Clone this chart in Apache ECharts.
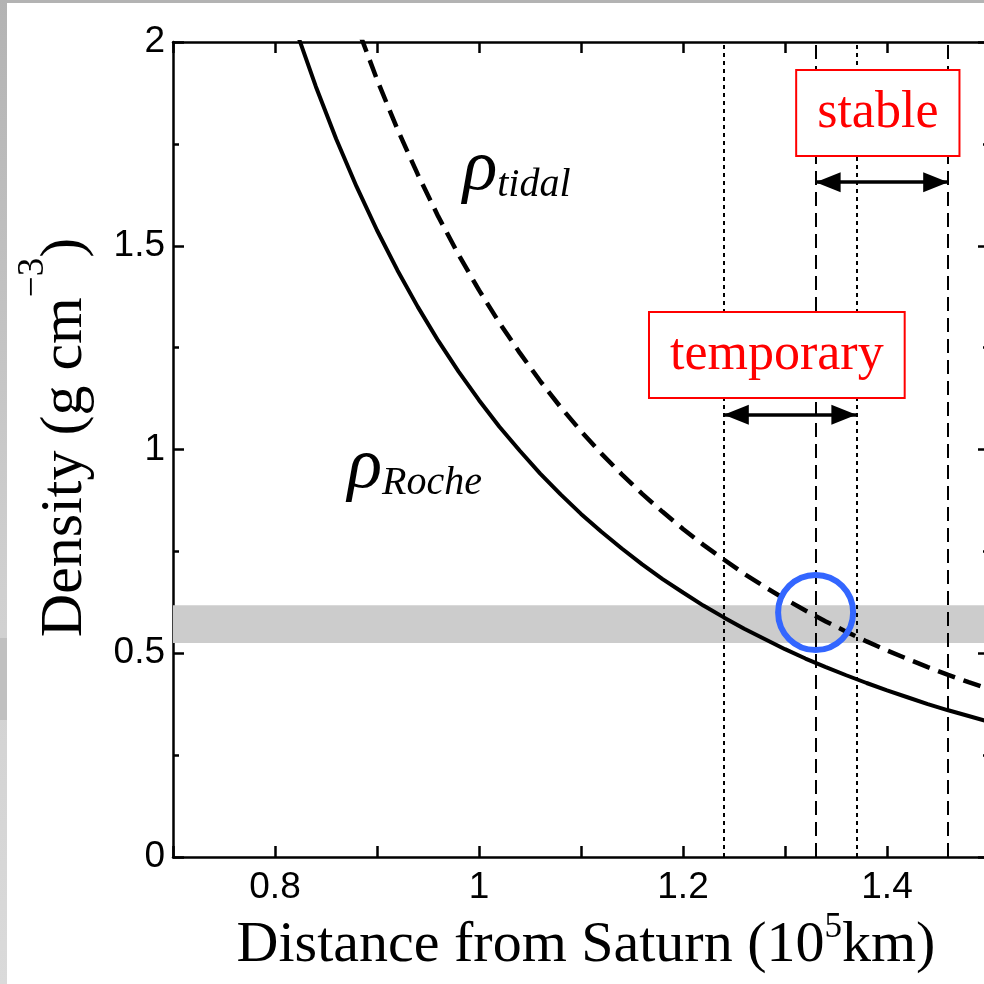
<!DOCTYPE html>
<html>
<head>
<meta charset="utf-8">
<script src="https://cdn.jsdelivr.net/npm/echarts@6/dist/echarts.min.js"></script>
<style>
  * { margin: 0; padding: 0; }
  body { background: #fff; }
  #main { width: 984px; height: 984px; }
</style>
</head>
<body>
<div id="main"></div>
<script>
// distance from Saturn (10^5 km) and the two critical densities
var distance = [0.82, 0.84, 0.86, 0.88, 0.90, 0.92, 0.94, 0.96, 0.98, 1.00,
                1.02, 1.04, 1.06, 1.08, 1.10, 1.12, 1.14, 1.16, 1.18, 1.20,
                1.22, 1.24, 1.26, 1.28, 1.30, 1.32, 1.34, 1.36, 1.38, 1.40,
                1.42, 1.44, 1.46, 1.48, 1.50];
var rhoRoche = [2.033, 1.891, 1.762, 1.645, 1.538, 1.440, 1.350, 1.267, 1.191, 1.121,
                1.056, 0.997, 0.941, 0.890, 0.842, 0.798, 0.757, 0.718, 0.682, 0.649,
                0.617, 0.588, 0.560, 0.535, 0.510, 0.487, 0.466, 0.446, 0.427, 0.409,
                0.392, 0.375, 0.360, 0.346, 0.332];
var rhoTidal = [2.523, 2.347, 2.187, 2.041, 1.908, 1.786, 1.675, 1.572, 1.478, 1.391,
                1.311, 1.237, 1.168, 1.104, 1.045, 0.990, 0.939, 0.891, 0.847, 0.805,
                0.766, 0.730, 0.695, 0.663, 0.633, 0.605, 0.578, 0.553, 0.529, 0.507,
                0.486, 0.466, 0.447, 0.429, 0.412];

var densityBand = [0.525, 0.618];      // grey band
var temporaryEdges = [1.24, 1.37];     // dotted lines
var stableEdges = [1.33, 1.46];        // long dashed lines
var temporaryArrowY = 1.085;
var stableArrowY = 1.656;
var circleMark = [1.33, 0.60];
var boxLabels = [[1.391, 1.826, 'stable'], [1.292, 1.232, 'temporary']];
var curveLabels = [[0.984, 1.686, 'tidal'], [0.871, 0.955, 'Roche']];

var xTickLabels = ['0.8', '1', '1.2', '1.4'];
var yTickLabels = ['0', '0.5', '1', '1.5', '2'];

var serif = 'Liberation Serif';
var sans = 'Liberation Sans';

function pairs(xs, ys) {
    return xs.map(function (x, i) { return [x, ys[i]]; });
}

var chart = echarts.init(document.getElementById('main'), null, { renderer: 'canvas' });

var tickFmt = function (list) {
    return function (v) {
        var s = String(+(+v).toFixed(2));
        return list.indexOf(s) >= 0 ? s : '';
    };
};

var axisLine = { onZero: false, lineStyle: { color: '#000', width: 2.5 } };
var tickStyle = { color: '#000', width: 2.5 };

var option = {
    animation: false,
    backgroundColor: '#fff',
    graphic: [
        { type: 'rect', left: 0, top: 0, shape: { width: 984, height: 3 }, style: { fill: '#b3b3b3' }, z: 100 },
        { type: 'rect', left: 0, top: 0, shape: { width: 7, height: 984 },
          style: { fill: new echarts.graphic.LinearGradient(0, 0, 0, 1, [
              { offset: 0, color: '#b3b3b3' }, { offset: 0.6, color: '#d0d0d0' }, { offset: 1, color: '#dadada' }]) }, z: 100 },
        { type: 'rect', left: 0, top: 638, shape: { width: 7, height: 82 }, style: { fill: '#c0c0c0' }, z: 101 }
    ],
    grid: { left: 173, top: 42, width: 816, height: 815, outerBoundsMode: 'none', containLabel: false },
    xAxis: [{
        type: 'value', min: 0.7, max: 1.5, interval: 0.1,
        position: 'bottom',
        axisLine: axisLine,
        axisTick: { inside: true, length: 11, lineStyle: tickStyle },
        axisLabel: { formatter: tickFmt(xTickLabels), color: '#000', fontFamily: sans, fontSize: 37, margin: 12 },
        splitLine: { show: false },
        name: '{m|Distance from Saturn (10}{s|5}{m|km)}',
        nameLocation: 'middle', nameGap: 60, nameMoveOverlap: false,
        nameTextStyle: {
            padding: [0, 0, 0, 10],
            rich: {
                m: { fontFamily: serif, fontSize: 58, color: '#000', lineHeight: 58, verticalAlign: 'bottom' },
                s: { fontFamily: serif, fontSize: 35, color: '#000', lineHeight: 35, verticalAlign: 'bottom', padding: [0, 0, 30, 0] }
            }
        }
    }, {
        type: 'value', min: 0.7, max: 1.5, interval: 0.1,
        position: 'top',
        axisLine: axisLine,
        axisTick: { inside: true, length: 11, lineStyle: tickStyle },
        axisLabel: { show: false },
        splitLine: { show: false }
    }],
    yAxis: [{
        type: 'value', min: 0, max: 2, interval: 0.5,
        position: 'left',
        axisLine: axisLine,
        axisTick: { show: true, inside: true, length: 11, lineStyle: tickStyle },
        minorTick: { show: true, splitNumber: 2, length: 6, lineStyle: tickStyle },
        axisLabel: { formatter: tickFmt(yTickLabels), color: '#000', fontFamily: sans, fontSize: 37, margin: 8 },
        splitLine: { show: false },
        name: '{m|Density (g cm}{s|\u22123}{m|)}',
        nameLocation: 'middle', nameGap: 78, nameMoveOverlap: false,
        nameTextStyle: {
            padding: [0, 0, 0, 24],
            rich: {
                m: { fontFamily: serif, fontSize: 60, color: '#000', lineHeight: 80, verticalAlign: 'bottom' },
                s: { fontFamily: serif, fontSize: 37, color: '#000', lineHeight: 12, verticalAlign: 'top' }
            }
        }
    }, {
        type: 'value', min: 0, max: 2, interval: 0.5,
        position: 'right',
        axisLine: axisLine,
        axisTick: { show: true, inside: true, length: 11, lineStyle: tickStyle },
        minorTick: { show: true, splitNumber: 2, length: 6, lineStyle: tickStyle },
        axisLabel: { show: false },
        splitLine: { show: false }
    }],
    series: [
        {
            // grey density band and the vertical boundary lines
            type: 'line', data: [], z: 1,
            markArea: {
                silent: true,
                itemStyle: { color: '#cccccc' },
                data: [[{ yAxis: densityBand[0] }, { yAxis: densityBand[1] }]]
            },
            markLine: {
                silent: true, symbol: 'none', label: { show: false },
                data: temporaryEdges.map(function (x) {
                    return { xAxis: x, lineStyle: { color: '#000', width: 2, type: [4, 4] } };
                }).concat(stableEdges.map(function (x) {
                    return { xAxis: x, lineStyle: { color: '#000', width: 2, type: [14, 7] } };
                }))
            }
        },
        {
            name: 'Roche', type: 'line', data: pairs(distance, rhoRoche), z: 3,
            showSymbol: false, symbol: 'none', clip: true,
            lineStyle: { color: '#000', width: 4 }
        },
        {
            name: 'tidal', type: 'line', data: pairs(distance, rhoTidal), z: 3,
            showSymbol: false, symbol: 'none', clip: true,
            lineStyle: { color: '#000', width: 4.5, type: [18, 9] }
        },
        {
            // double arrows
            type: 'line', data: [], z: 4,
            markLine: {
                silent: true,
                symbol: ['triangle', 'triangle'],
                symbolSize: [20, 25],
                symbolOffset: [[0, 12.5], [0, 12.5]],
                label: { show: false },
                lineStyle: { color: '#000', width: 3.5, type: 'solid' },
                data: [
                    [{ coord: [temporaryEdges[0], temporaryArrowY] }, { coord: [temporaryEdges[1], temporaryArrowY] }],
                    [{ coord: [stableEdges[0], stableArrowY] }, { coord: [stableEdges[1], stableArrowY] }]
                ]
            }
        },
        {
            // boxed labels
            type: 'scatter', z: 6, symbolSize: 1,
            itemStyle: { color: 'rgba(0,0,0,0)', opacity: 1 },
            data: boxLabels,
            label: {
                show: true, position: 'inside', opacity: 1,
                formatter: function (p) { return p.data[2]; },
                fontFamily: serif, fontSize: 52, lineHeight: 56, color: '#ff0000',
                textBorderWidth: 0,
                backgroundColor: '#fff', borderColor: '#ff0000', borderWidth: 2,
                padding: [14, 20]
            }
        },
        {
            // rho labels
            type: 'scatter', z: 6, symbolSize: 1,
            itemStyle: { color: 'rgba(0,0,0,0)', opacity: 1 },
            data: curveLabels,
            label: {
                show: true, position: 'inside', align: 'left', color: '#000', opacity: 1,
                textBorderWidth: 0,
                formatter: function (p) { return '{r|\u03c1}{s|' + p.data[2] + '}'; },
                rich: {
                    r: { fontFamily: serif, fontStyle: 'italic', fontSize: 72, color: '#000', lineHeight: 72, verticalAlign: 'bottom' },
                    s: { fontFamily: serif, fontStyle: 'italic', fontSize: 40, color: '#000', lineHeight: 4, verticalAlign: 'bottom' }
                }
            }
        },
        {
            // blue circle
            type: 'scatter', z: 7, symbol: 'circle', symbolSize: 75,
            data: [circleMark],
            itemStyle: { color: 'rgba(0,0,0,0)', opacity: 1, borderColor: '#3366ff', borderWidth: 6 }
        }
    ]
};

chart.setOption(option);
</script>
</body>
</html>
